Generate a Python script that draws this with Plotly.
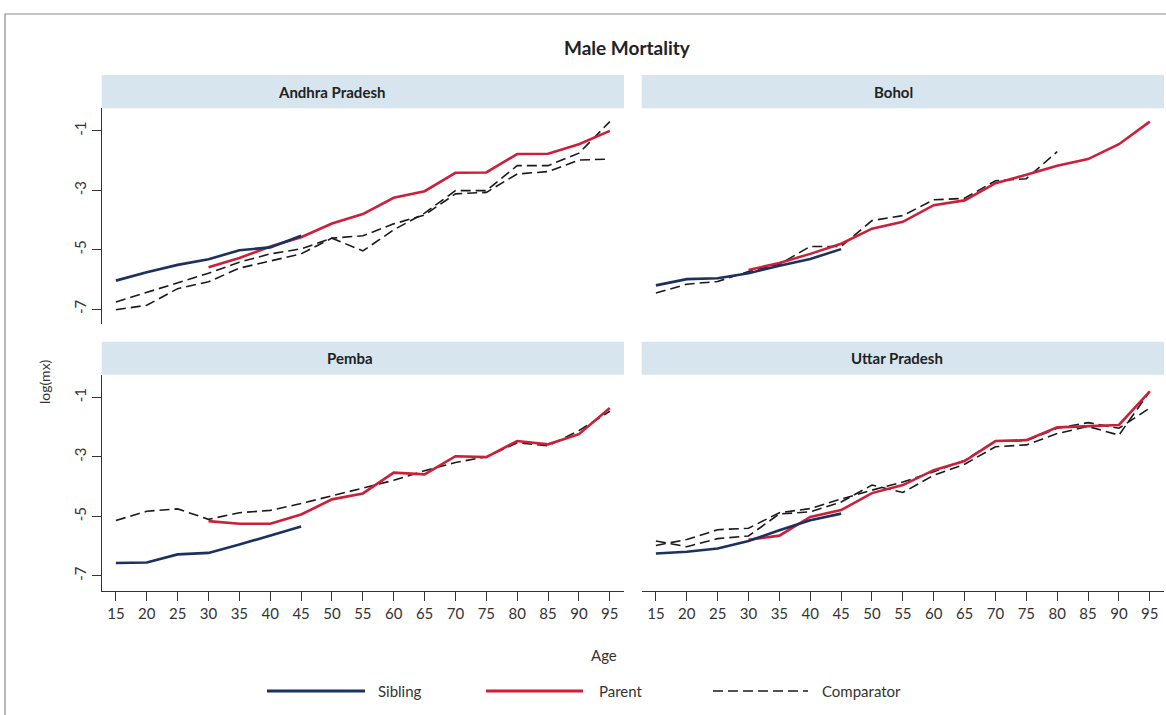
import plotly.graph_objects as go

# ---------------- data ----------------
ages = [15, 20, 25, 30, 35, 40, 45, 50, 55, 60, 65, 70, 75, 80, 85, 90, 95]
sib_ages = ages[:7]          # 15-45
par_ages = ages[3:]          # 30-95
panel_names = ["Andhra Pradesh", "Bohol", "Pemba", "Uttar Pradesh"]
ytick_vals = [-1, -3, -5, -7]
ytick_text = ["-1", "-3", "-5", "-7"]

ap_sibling = [-6.04, -5.76, -5.51, -5.32, -5.02, -4.92, -4.53]
ap_parent = [-5.59, -5.28, -4.89, -4.58, -4.12, -3.80, -3.25, -3.03, -2.41, -2.40, -1.78, -1.77, -1.45, -1.00]
ap_comp1 = [-6.76, -6.44, -6.10, -5.79, -5.42, -5.14, -4.97, -4.61, -5.04, -4.33, -3.77, -3.01, -3.01, -2.17, -2.17, -1.75, -0.69]
ap_comp2 = [-7.02, -6.87, -6.31, -6.08, -5.62, -5.39, -5.14, -4.61, -4.53, -4.13, -3.83, -3.12, -3.07, -2.45, -2.37, -1.98, -1.95]

bo_sibling = [-6.20, -5.99, -5.96, -5.79, -5.54, -5.31, -4.98]
bo_parent = [-5.68, -5.45, -5.14, -4.80, -4.29, -4.06, -3.50, -3.34, -2.76, -2.48, -2.17, -1.95, -1.45, -0.69]
bo_comp_ages = ages[:14]     # 15-80
bo_comp = [-6.46, -6.16, -6.07, -5.73, -5.49, -4.89, -4.89, -4.02, -3.85, -3.32, -3.27, -2.68, -2.61, -1.70]

pe_sibling = [-6.57, -6.55, -6.28, -6.23, -5.95, -5.64, -5.34]
pe_parent = [-5.16, -5.25, -5.25, -4.94, -4.43, -4.23, -3.53, -3.59, -2.98, -3.01, -2.47, -2.58, -2.24, -1.36]
pe_comp = [-5.14, -4.83, -4.75, -5.10, -4.88, -4.80, -4.57, -4.32, -4.05, -3.79, -3.47, -3.19, -3.00, -2.53, -2.63, -2.12, -1.47]

up_sibling = [-6.25, -6.19, -6.08, -5.83, -5.47, -5.13, -4.91]
up_parent = [-5.79, -5.65, -5.02, -4.79, -4.22, -3.95, -3.45, -3.14, -2.47, -2.44, -2.01, -1.96, -1.93, -0.80]
up_comp1 = [-5.83, -6.02, -5.75, -5.66, -4.92, -4.85, -4.52, -3.95, -4.20, -3.62, -3.25, -2.66, -2.60, -2.22, -1.98, -2.27, -0.80]
up_comp2 = [-5.98, -5.78, -5.45, -5.40, -4.88, -4.74, -4.42, -4.12, -3.85, -3.50, -3.12, -2.47, -2.46, -2.04, -1.85, -2.04, -1.36]

# ---------------- style ----------------
W, H = 1166, 715
NAVY = "#1c3160"
RED = "#cc1f38"
BLACK = "#1a1a1a"
STRIP = "#d7e6ee"
FONT = "Lato"
DASH = "10px,5px"


def px_x(p):
    return p / W


def px_y(p):
    return 1 - p / H


XL = [px_x(101.7), px_x(624)]
XR = [px_x(641.7), px_x(1164)]
YT = [px_y(324), px_y(108.3)]
YB = [px_y(590.7), px_y(374.7)]
XRANGE = [12.7, 97.3]
YRANGE = [-7.5, -0.24]

fig = go.Figure()

panels = [
    ("x", "y", ap_sibling, ap_parent, [(ages, ap_comp1), (ages, ap_comp2)]),
    ("x2", "y2", bo_sibling, bo_parent, [(bo_comp_ages, bo_comp)]),
    ("x3", "y3", pe_sibling, pe_parent, [(ages, pe_comp)]),
    ("x4", "y4", up_sibling, up_parent, [(ages, up_comp1), (ages, up_comp2)]),
]

for xa, ya, sib, par, comps in panels:
    for cx, cy in comps:
        fig.add_trace(go.Scatter(x=cx, y=cy, mode="lines", xaxis=xa, yaxis=ya,
                                 line=dict(color=BLACK, width=1.6, dash=DASH),
                                 showlegend=False, hoverinfo="skip"))
    fig.add_trace(go.Scatter(x=par_ages, y=par, mode="lines", xaxis=xa, yaxis=ya,
                             line=dict(color=RED, width=2.6), showlegend=False))
    fig.add_trace(go.Scatter(x=sib_ages, y=sib, mode="lines", xaxis=xa, yaxis=ya,
                             line=dict(color=NAVY, width=2.6), showlegend=False))

hidden_x = dict(range=XRANGE, showline=False, showticklabels=False, ticks="",
                showgrid=False, zeroline=False, fixedrange=True)
shown_x = dict(range=XRANGE, showline=True, linecolor="#333", linewidth=1,
               ticks="outside", ticklen=9, tickcolor="#333", tickwidth=1,
               tickvals=ages, ticktext=[str(a) for a in ages],
               tickfont=dict(family=FONT, size=15, color="#333"),
               showgrid=False, zeroline=False)
shown_y = dict(range=YRANGE, showline=True, linecolor="#333", linewidth=1,
               ticks="outside", ticklen=9, tickcolor="#333", tickwidth=1,
               tickvals=ytick_vals, ticktext=ytick_text, tickangle=-90,
               tickfont=dict(family=FONT, size=15, color="#333"),
               showgrid=False, zeroline=False)
hidden_y = dict(range=YRANGE, showline=False, showticklabels=False, ticks="",
                showgrid=False, zeroline=False)

fig.update_layout(
    width=W, height=H,
    margin=dict(l=0, r=0, t=0, b=0, autoexpand=False),
    paper_bgcolor="white", plot_bgcolor="white",
    showlegend=False,
    xaxis=dict(domain=XL, anchor="y", **hidden_x),
    yaxis=dict(domain=YT, anchor="x", **shown_y),
    xaxis2=dict(domain=XR, anchor="y2", **hidden_x),
    yaxis2=dict(domain=YT, anchor="x2", **hidden_y),
    xaxis3=dict(domain=XL, anchor="y3", **shown_x),
    yaxis3=dict(domain=YB, anchor="x3", **shown_y),
    xaxis4=dict(domain=XR, anchor="y4", **shown_x),
    yaxis4=dict(domain=YB, anchor="x4", **hidden_y),
)

shapes = []
annotations = []

# outer frame
shapes.append(dict(type="rect", xref="paper", yref="paper",
                   x0=px_x(5), x1=px_x(1175), y0=px_y(725), y1=px_y(14),
                   line=dict(color="#8a8a8a", width=1.2), fillcolor="rgba(0,0,0,0)", layer="below"))

# strips (label centres as they appear in the reference)
strip_rows = [(75, 108.3), (341.7, 374.7)]
strip_cols = [XL, XR]
label_centres = [331, 893, 350, 897]
for i, name in enumerate(panel_names):
    r, c = divmod(i, 2)
    y0p, y1p = strip_rows[r]
    xd = strip_cols[c]
    shapes.append(dict(type="rect", xref="paper", yref="paper",
                       x0=xd[0], x1=xd[1], y0=px_y(y1p), y1=px_y(y0p),
                       fillcolor=STRIP, line=dict(width=0), layer="below"))
    annotations.append(dict(text="<b>" + name + "</b>", xref="paper", yref="paper",
                            x=px_x(label_centres[i]), y=px_y((y0p + y1p) / 2),
                            xanchor="center", yanchor="middle", showarrow=False,
                            font=dict(family=FONT, size=15, color="#222")))

# title and axis titles
annotations.append(dict(text="<b>Male Mortality</b>", xref="paper", yref="paper",
                        x=px_x(627), y=px_y(47), xanchor="center", yanchor="middle",
                        showarrow=False, font=dict(family=FONT, size=19, color="#222")))
annotations.append(dict(text="Age", xref="paper", yref="paper",
                        x=px_x(604), y=px_y(655), xanchor="center", yanchor="middle",
                        showarrow=False, font=dict(family=FONT, size=15, color="#333")))
annotations.append(dict(text="log(mx)", xref="paper", yref="paper",
                        x=px_x(44), y=px_y(382), xanchor="center", yanchor="middle",
                        textangle=-90, showarrow=False,
                        font=dict(family=FONT, size=14, color="#333")))

# legend
legend_items = [("Sibling", NAVY, None, 267, 365, 376),
                ("Parent", RED, None, 486, 583, 597),
                ("Comparator", BLACK, DASH, 713, 808, 820)]
for label, col, dash, lx0, lx1, tx in legend_items:
    line = dict(color=col, width=3 if dash is None else 1.6)
    if dash:
        line["dash"] = DASH
    shapes.append(dict(type="line", xref="paper", yref="paper",
                       x0=px_x(lx0), x1=px_x(lx1), y0=px_y(691), y1=px_y(691), line=line))
    annotations.append(dict(text=label, xref="paper", yref="paper",
                            x=px_x(tx), y=px_y(691), xanchor="left", yanchor="middle",
                            showarrow=False, font=dict(family=FONT, size=15, color="#333")))

fig.update_layout(shapes=shapes, annotations=annotations)

fig.write_html("out.html", config={"displayModeBar": False},
               post_script="document.body.style.margin='0px';document.body.style.overflow='hidden';")
